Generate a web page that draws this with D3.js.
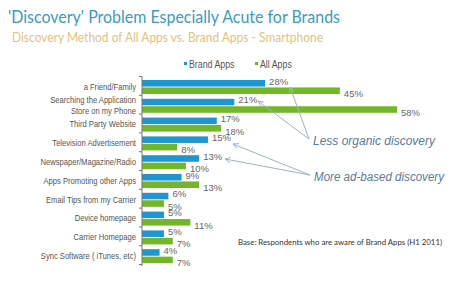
<!DOCTYPE html>
<html>
<head>
<meta charset="utf-8">
<script src="https://cdnjs.cloudflare.com/ajax/libs/d3/7.8.5/d3.min.js"></script>
<style>
  body { margin: 0; background: #fff; }
  svg { display: block; }
</style>
</head>
<body>
<div id="chart"></div>
<script>
// chart data
var categories = ["a Friend/Family", "Searching the Application\nStore on my Phone", "Third Party Website",
  "Television Advertisement", "Newspaper/Magazine/Radio", "Apps Promoting other Apps",
  "Email Tips from my Carrier", "Device homepage", "Carrier Homepage", "Sync Software ( iTunes, etc)"];
var brandApps = [28, 21, 17, 15, 13, 9, 6, 5, 5, 4];
var allApps = [45, 58, 18, 8, 10, 13, 5, 11, 7, 7];
var seriesNames = ["Brand Apps", "All Apps"];

var width = 455, height = 284;
var blue = "#1e96d2", green = "#72b72a";
var arial = "Liberation Sans, Arial, sans-serif";

var svg = d3.select("#chart").append("svg")
  .attr("width", width).attr("height", height);

// squeeze a text to a given width (reference fonts are narrower)
function fit(sel, w) {
  sel.attr("textLength", w).attr("lengthAdjust", "spacingAndGlyphs");
}
function squeeze(sel, k) {
  sel.each(function() {
    var l = this.getComputedTextLength();
    d3.select(this).attr("textLength", l * k).attr("lengthAdjust", "spacingAndGlyphs");
  });
}

// titles
svg.append("text").attr("x", 8).attr("y", 23)
  .style("font-family", "Lato, sans-serif").style("font-size", "17px")
  .attr("fill", "#3a9cc0")
  .text("'Discovery' Problem Especially Acute for Brands").call(fit, 332);
svg.append("text").attr("x", 12).attr("y", 42)
  .style("font-family", "Lato, sans-serif").style("font-size", "12.5px")
  .attr("fill", "#e3c27e")
  .text("Discovery Method of All Apps vs. Brand Apps - Smartphone").call(fit, 311);

// scales
var x = d3.scaleLinear().domain([0, 58]).range([142, 397]);
var y = d3.scaleBand().domain(d3.range(categories.length)).range([77, 265]);
var inner = d3.scaleBand().domain([0, 1]).range([3, 17]).paddingInner(0.12);

// legend
var legend = svg.append("g").selectAll("g").data(seriesNames).enter().append("g")
  .attr("transform", function(d, i) { return "translate(" + [184 + i * 71, 64] + ")"; });
legend.append("rect").attr("x", 0).attr("y", -2).attr("width", 3).attr("height", 3)
  .attr("fill", function(d, i) { return i ? green : blue; });
legend.append("text").attr("x", 5).attr("dy", "0.35em")
  .style("font-family", arial).style("font-size", "10px")
  .attr("fill", "#555").text(function(d) { return d; })
  .call(squeeze, 0.88);

// rows
var rows = svg.append("g").selectAll("g").data(categories).enter().append("g")
  .attr("transform", function(d, i) { return "translate(0," + y(i) + ")"; });

[brandApps, allApps].forEach(function(vals, s) {
  rows.append("rect")
    .attr("x", x(0))
    .attr("y", inner(s))
    .attr("width", function(d, i) { return x(vals[i]) - x(0); })
    .attr("height", inner.bandwidth())
    .attr("fill", s ? green : blue);
  rows.append("text")
    .attr("x", function(d, i) { return x(vals[i]) + 4; })
    .attr("y", inner(s) + inner.bandwidth() / 2 + (s ? 3 : -2))
    .attr("dy", "0.35em")
    .style("font-family", arial).style("font-size", "9.5px")
    .attr("fill", "#666")
    .text(function(d, i) { return vals[i] + "%"; });
});

// category labels
rows.append("text")
  .attr("x", 136)
  .attr("y", y.bandwidth() / 2)
  .attr("text-anchor", "end")
  .style("font-family", arial).style("font-size", "9.5px")
  .attr("fill", "#555")
  .each(function(d) {
    var lines = d.split("\n");
    var t = d3.select(this);
    lines.forEach(function(l, k) {
      t.append("tspan").attr("x", 136)
        .attr("dy", k === 0 ? (0.35 - (lines.length - 1) * 0.6) + "em" : "1.2em")
        .text(l);
    });
  })
  .selectAll("tspan").call(squeeze, 0.8);

// axis
var axis = svg.append("g").attr("transform", "translate(" + x(0) + ",0)")
  .call(d3.axisLeft(y).tickSize(0).tickFormat(""));
axis.select(".domain").attr("stroke", "#777").attr("d", "M0,76.5V266");
axis.selectAll(".tick").remove();
axis.selectAll(".t").data(d3.range(categories.length + 1)).enter().append("line")
  .attr("x1", -3).attr("x2", 0)
  .attr("y1", function(i) { return 76.5 + i * y.step(); })
  .attr("y2", function(i) { return 76.5 + i * y.step(); })
  .attr("stroke", "#777");

// annotations
var notes = [
  {text: "Less organic  discovery", x: 313, y: 141, w: 122, from: [309, 139], to: [[290, 87], [258, 101]]},
  {text: "More ad-based discovery", x: 314, y: 177, w: 130, from: [310, 175], to: [[233, 144], [225, 159]]}
];
notes.forEach(function(n) {
  n.to.forEach(function(p) {
    svg.append("line").attr("x1", n.from[0]).attr("y1", n.from[1])
      .attr("x2", p[0]).attr("y2", p[1])
      .attr("stroke", "#9ab4c8").attr("stroke-width", 1);
    var ang = Math.atan2(n.from[1] - p[1], n.from[0] - p[0]);
    var a1 = ang + 0.45, a2 = ang - 0.45, L = 6;
    svg.append("path")
      .attr("d", "M" + (p[0] + L * Math.cos(a1)) + "," + (p[1] + L * Math.sin(a1)) +
        "L" + p[0] + "," + p[1] + "L" + (p[0] + L * Math.cos(a2)) + "," + (p[1] + L * Math.sin(a2)))
      .attr("fill", "none").attr("stroke", "#9ab4c8").attr("stroke-width", 1);
  });
  svg.append("text").attr("x", n.x).attr("y", n.y).attr("dy", "0.35em")
    .style("font-family", arial).style("font-size", "12.5px")
    .style("font-style", "italic")
    .attr("fill", "#5b7a98").text(n.text).call(fit, n.w);
});

// footnote
svg.append("text").attr("x", 238).attr("y", 242).attr("dy", "0.35em")
  .style("font-family", "Lato, sans-serif").style("font-size", "8px")
  .attr("fill", "#333")
  .text("Base: Respondents who are aware of Brand Apps (H1 2011)").call(fit, 204);
</script>
</body>
</html>
